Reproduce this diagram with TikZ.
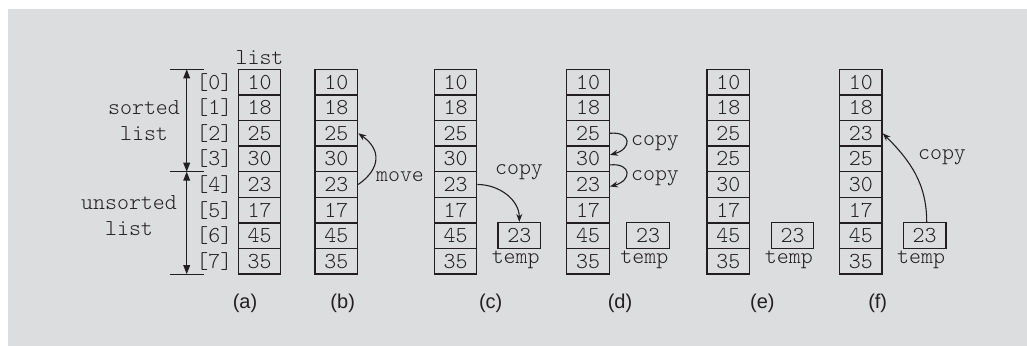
\documentclass[tikz,border=0pt]{standalone}
\usepackage{fontspec}
\setmainfont{Liberation Sans}
\setsansfont{Liberation Sans}
\setmonofont{Latin Modern Mono Light}
\usetikzlibrary{arrows.meta}
\definecolor{panel}{RGB}{220,221,223}
\definecolor{ink}{RGB}{35,31,32}
\tikzset{
  cell/.style={draw=ink, line width=0.65pt, minimum width=21.3pt, minimum height=12.8pt,
    inner sep=0pt, text=ink, font={\fontsize{11.4pt}{13pt}\selectfont\ttfamily}},
  lbl/.style={text=ink, inner sep=1pt, font={\fontsize{11.4pt}{13pt}\selectfont\ttfamily}},
  twoline/.style={lbl, align=center},
  stagecap/.style={text=ink, inner sep=1pt, font=\sffamily},
  arr/.style={draw=ink, line width=0.55pt, -{Stealth[length=4pt,width=3pt]}},
  spanarrow/.style={draw=ink, line width=0.55pt, {Triangle[length=4.5pt,width=3.4pt]}-{Triangle[length=4.5pt,width=3.4pt]}}
}
\begin{document}
\begin{tikzpicture}[x=0.5pt,y=-0.5pt]
\useasboundingbox (0,0) rectangle (1027,346);
\fill[panel] (8,9) rectangle (1027,346);

% the six stages of the array
\foreach \col/\cx/\vals in {a/259.5/{10,18,25,30,23,17,45,35},
                            b/336.3/{10,18,25,30,23,17,45,35},
                            c/455.5/{10,18,25,30,23,17,45,35},
                            d/588.0/{10,18,25,30,23,17,45,35},
                            e/728.3/{10,18,25,25,30,17,45,35},
                            f/860.8/{10,18,23,25,30,17,45,35}}{
  \foreach \v [count=\i from 0] in \vals {
    \node[cell] (\col\i) at (\cx,82.1+25.6*\i) {\v};
  }
}

% indices and names
\foreach \i in {0,...,7}{
  \node[lbl,anchor=east] (ia\i) at ([xshift=-1.4pt]a\i.west) {[\i]};
}
\node[lbl] (lname) at (259.5,57.5) {list};
\node[twoline] (sname) at (144,121) {sorted\\list};
\node[twoline] (uname) at (129,215.5) {unsorted\\list};

% sorted / unsorted spans
\coordinate (sTop) at (186.7,69.3);
\coordinate (sMid) at (186.7,171.7);
\coordinate (sBot) at (186.7,274.1);
\foreach \p in {sTop,sMid,sBot}{
  \draw[ink,line width=0.55pt] ([xshift=-8.5pt]\p) -- ([xshift=8.5pt]\p);
}
\draw[spanarrow] (sTop) -- (sMid);
\draw[spanarrow] (sMid) -- (sBot);

% temp boxes
\foreach \t/\tx in {c/519.3,d/648.0,e/792.5,f/924.7}{
  \node[cell] (t\t) at (\tx,235.4) {23};
  \node[lbl,anchor=north] (tl\t) at ([xshift=-1.8pt]t\t.south) {temp};
}

% moves and copies
\draw[arr] (b4.east) to[out=35,in=-35,looseness=1.4] (b2.east);
\node[lbl] (mv) at (400,177) {move};
\draw[arr] (c4.east) to[out=0,in=90] (tc.north);
\node[lbl] (cpc) at (519,172) {copy};
\draw[arr] (d2.east) .. controls +(22,-2) and +(22,-6) .. ([yshift=2pt]d3.east);
\draw[arr] ([yshift=-3pt]d3.east) .. controls +(22,-2) and +(22,-6) .. ([yshift=-1pt]d4.east);
\node[lbl] (cpd1) at (655,143) {copy};
\node[lbl] (cpd2) at (655,178) {copy};
\draw[arr] ([xshift=1pt]tf.north) to[out=90,in=-45] (f2.east);
\node[lbl] (cpf) at (942,157) {copy};

% stage captions
\foreach \s/\sx in {a/245,b/342.7,c/490.7,d/620,e/762.3,f/877.7}{
  \node[stagecap] (cap\s) at (\sx,303) {(\s)};
}
\end{tikzpicture}
\end{document}
